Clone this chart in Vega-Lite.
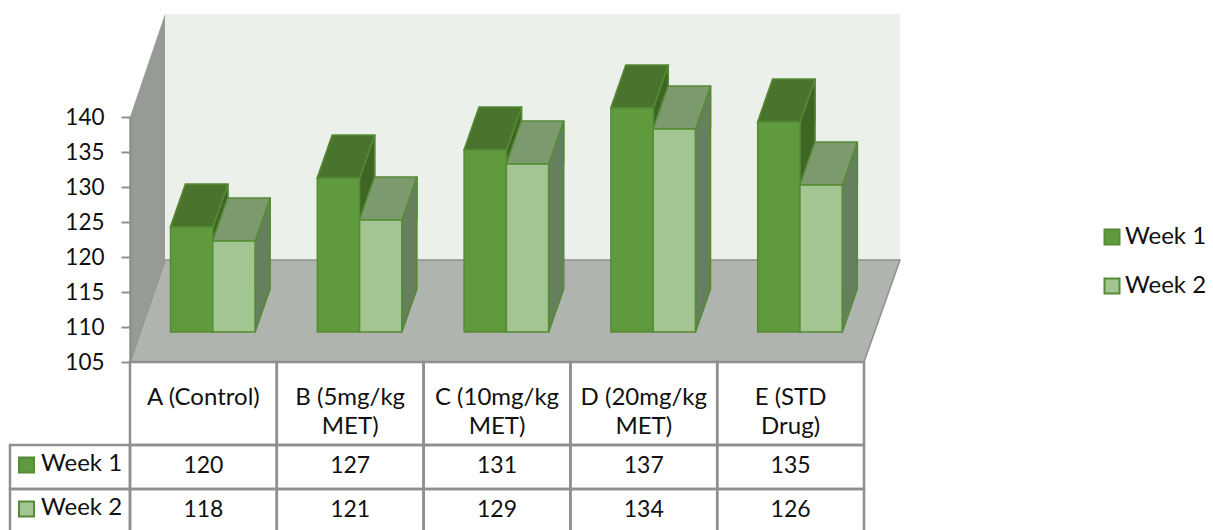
{
"$schema":"https://vega.github.io/schema/vega-lite/v6.json",
"width":1213,"height":530,"padding":0,"autosize":"none",
"background":"white",
"view":{"stroke":null},
"config":{"text":{"font":"Lato","fontSize":24,"color":"#111"},"view":{"stroke":null}},
"datasets":{"scores":[
{"cat":"A (Control)","week":"Week 1","value":120},{"cat":"A (Control)","week":"Week 2","value":118},
{"cat":"B (5mg/kg\nMET)","week":"Week 1","value":127},{"cat":"B (5mg/kg\nMET)","week":"Week 2","value":121},
{"cat":"C (10mg/kg\nMET)","week":"Week 1","value":131},{"cat":"C (10mg/kg\nMET)","week":"Week 2","value":129},
{"cat":"D (20mg/kg\nMET)","week":"Week 1","value":137},{"cat":"D (20mg/kg\nMET)","week":"Week 2","value":134},
{"cat":"E (STD\nDrug)","week":"Week 1","value":135},{"cat":"E (STD\nDrug)","week":"Week 2","value":126}
],"origin":[{"cat":"A (Control)","value":105}]},
"data":{"name":"scores"},
"resolve":{"scale":{"x":"independent","y":"independent","xOffset":"independent"},"axis":{"x":"independent","y":"independent"}},
"layer":[
{"data":{"name":"origin"},
 "encoding":{
  "x":{"field":"cat","type":"nominal","axis":null,"scale":{"type":"point","domain":["A (Control)","B","C","D","E"],"range":[130,717],"padding":0}},
  "y":{"field":"value","type":"quantitative","scale":{"domain":[105,140],"range":[362,117],"zero":false,"nice":false},
   "axis":{"values":[105,110,115,120,125,130,135,140],"offset":-130,"title":null,"grid":false,"zindex":1,"domainColor":"#8f8f8f","domainWidth":2.5,"tickColor":"#8f8f8f","tickWidth":2,"tickSize":9,"labelPadding":17,"labelFont":"Lato","labelFontSize":22.5,"labelColor":"#111"}}},
 "layer":[
  {"mark":{"type":"point","shape":"M35,-102 L770,-102 L770,-348 L35,-348 Z","size":4,"filled":true,"fill":"#ebf0ea","opacity":1,"strokeWidth":0}},
  {"mark":{"type":"point","shape":"M0,0 L35,-102 L770,-102 L734,0 Z","size":4,"filled":true,"fill":"#b0b4ae","stroke":"#8f8f8f","strokeWidth":1.5,"opacity":1}},
  {"mark":{"type":"point","shape":"M0,0 L35,-102 L35,-348 L0,-245 Z","size":4,"filled":true,"fill":"#979b95","opacity":1,"strokeWidth":0}}
 ]},
{"transform":[{"filter":"datum.week==='Week 1'"}],
 "encoding":{
  "x":{"field":"cat","type":"nominal","axis":null,"sort":null,"scale":{"paddingInner":0,"paddingOuter":0,"range":[130,864]}},
  "y":{"datum":"Header","type":"nominal","axis":null,"scale":{"domain":["Header"],"range":[362,445],"paddingInner":0,"paddingOuter":0}}},
 "layer":[
  {"mark":{"type":"rect","filled":false,"stroke":"#8f8f8f","strokeWidth":2.5}},
  {"mark":{"type":"text","baseline":"top","lineBreak":"\n","lineHeight":29,"dy":-18,"align":"center"},"encoding":{"text":{"field":"cat"}}}
 ]},
{"encoding":{
  "x":{"field":"cat","type":"nominal","axis":null,"sort":null,"scale":{"paddingInner":0,"paddingOuter":0,"range":[130,864]}},
  "y":{"field":"week","type":"nominal","axis":null,"scale":{"domain":["Week 1","Week 2"],"range":[445,533],"paddingInner":0,"paddingOuter":0}}},
 "layer":[
  {"mark":{"type":"rect","filled":false,"stroke":"#8f8f8f","strokeWidth":2.5}},
  {"mark":{"type":"text","baseline":"middle","align":"center","dy":-1,"fontSize":23},"encoding":{"text":{"field":"value","type":"quantitative"}}}
 ]},
{"transform":[{"filter":"datum.cat==='A (Control)'"}],
 "encoding":{
  "x":{"datum":"Series","type":"nominal","axis":null,"scale":{"domain":["Series"],"range":[10,130],"paddingInner":0,"paddingOuter":0}},
  "y":{"field":"week","type":"nominal","axis":null,"scale":{"domain":["Week 1","Week 2"],"range":[445,533],"paddingInner":0,"paddingOuter":0}}},
 "layer":[
  {"mark":{"type":"rect","filled":false,"stroke":"#8f8f8f","strokeWidth":2.5}},
  {"mark":{"type":"point","shape":"square","filled":true,"size":225,"opacity":1,"stroke":"#558b35","strokeWidth":2,"xOffset":-43.5,"yOffset":-2},
   "encoding":{"fill":{"condition":{"test":"datum.week==='Week 1'","value":"#5f9a3d"},"value":"#a3c591"}}},
  {"mark":{"type":"text","align":"left","baseline":"middle","dx":-29,"dy":-3},"encoding":{"text":{"field":"week"}}}
 ]},
{"mark":{"type":"bar","width":15,"y2Offset":-43,"strokeWidth":0},
 "encoding":{
  "x":{"field":"cat","type":"nominal","axis":null,"sort":null,"scale":{"paddingInner":0,"paddingOuter":0,"range":[130,864]}},
  "xOffset":{"field":"week","type":"nominal","scale":{"domain":["Week 1","Week 2"],"range":[69.25,153.75],"paddingInner":0,"paddingOuter":0}},
  "y":{"field":"value","type":"quantitative","axis":null,"scale":{"domain":[105,140],"range":[332,87],"zero":false,"nice":false}},
  "y2":{"datum":105},
  "fill":{"condition":{"test":"datum.week==='Week 1'","value":"#3f6525"},"value":"#667f5c"}}},
{"mark":{"type":"rule","yOffset":-43,"y2Offset":-43,"stroke":"#558b35","strokeWidth":1.5},
 "encoding":{
  "x":{"field":"cat","type":"nominal","axis":null,"sort":null,"scale":{"paddingInner":0,"paddingOuter":0,"range":[130,864]}},
  "xOffset":{"field":"week","type":"nominal","scale":{"domain":["Week 1","Week 2"],"range":[76.75,161.25],"paddingInner":0,"paddingOuter":0}},
  "y":{"field":"value","type":"quantitative","axis":null,"scale":{"domain":[105,140],"range":[332,87],"zero":false,"nice":false}},
  "y2":{"datum":105}}},
{"encoding":{
  "x":{"field":"cat","type":"nominal","axis":null,"sort":null,"scale":{"paddingInner":0,"paddingOuter":0,"range":[130,864]}},
  "xOffset":{"field":"week","type":"nominal","scale":{"domain":["Week 1","Week 2"],"range":[40.5,125],"paddingInner":0,"paddingOuter":0}},
  "y":{"field":"value","type":"quantitative","axis":null,"scale":{"domain":[105,140],"range":[332,87],"zero":false,"nice":false}}},
 "layer":[
  {"mark":{"type":"point","shape":"M21.25,0 L36.25,-43 L36.25,0","size":4,"filled":true,"opacity":1,"stroke":"#558b35","strokeWidth":1.5},
   "encoding":{"fill":{"condition":{"test":"datum.week==='Week 1'","value":"#3f6525"},"value":"#667f5c"}}},
  {"mark":{"type":"point","shape":"M21.25,-43 L21.25,0 L36.25,-43","size":4,"filled":true,"opacity":1,"stroke":"#558b35","strokeWidth":1.5},
   "encoding":{"y":{"datum":105},"fill":{"condition":{"test":"datum.week==='Week 1'","value":"#3f6525"},"value":"#667f5c"}}},
  {"mark":{"type":"point","shape":"M-21.25,0 L-6.25,-43 L36.25,-43 L21.25,0 Z","size":4,"filled":true,"opacity":1,"stroke":"#558b35","strokeWidth":1.5},
   "encoding":{"fill":{"condition":{"test":"datum.week==='Week 1'","value":"#4a732d"},"value":"#7c9a6e"}}},
  {"mark":{"type":"bar","stroke":"#558b35","strokeWidth":1.5},
   "encoding":{"y2":{"datum":105},"fill":{"field":"week","type":"nominal","scale":{"domain":["Week 1","Week 2"],"range":["#5f9a3d","#a3c591"]},
    "legend":{"orient":"none","legendX":1100,"legendY":225,"title":null,"symbolType":"square","symbolSize":225,"symbolStrokeColor":"#558b35","symbolStrokeWidth":2,"labelFont":"Lato","labelFontSize":24,"labelColor":"#111","labelOffset":1,"rowPadding":25}}}}
 ]}
]
}
